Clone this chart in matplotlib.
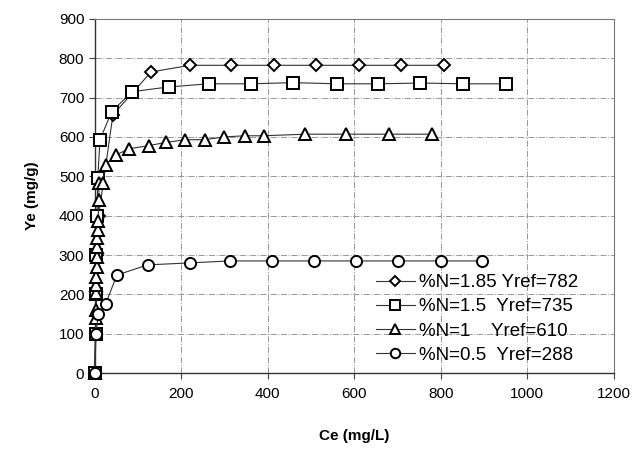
import matplotlib
matplotlib.use("Agg")
import matplotlib.pyplot as plt

plt.rcParams['font.family'] = ['Liberation Sans', 'DejaVu Sans']

# %N = 1.85
ce_185 = [0, 2, 4, 6, 9, 42, 130, 220, 316, 414, 511, 610, 708, 807]
ye_185 = [0, 100, 200, 300, 400, 656, 765, 782, 782, 782, 782, 782, 782, 782]
# %N = 1.5
ce_15 = [0, 2, 3, 4, 5, 7, 12, 39, 86, 171, 263, 361, 458, 559, 655, 753, 851, 950]
ye_15 = [0, 100, 200, 300, 400, 495, 593, 664, 715, 727, 735, 735, 738, 735, 735, 737, 735, 735]
# %N = 1
ce_1 = [0, 2, 3, 3, 4, 4, 5, 5, 6, 6, 7, 8, 9, 10, 18,
        25, 49, 79, 125, 164, 208, 254, 298, 347, 391, 486, 582, 680, 779]
ye_1 = [0, 140, 160, 203, 224, 244, 270, 295, 320, 343, 364, 386, 440, 483, 483,
        529, 554, 570, 578, 586, 593, 593, 600, 603, 603, 607, 607, 607, 607]
# %N = 0.5
ce_05 = [0, 3, 8, 25, 51, 122, 220, 312, 409, 506, 605, 700, 800, 895]
ye_05 = [0, 100, 150, 175, 249, 275, 280, 285, 285, 285, 285, 285, 285, 285]

labels = ["%N=1.85 Yref=782", "%N=1.5  Yref=735", "%N=1    Yref=610", "%N=0.5  Yref=288"]
x_ticks = [0, 200, 400, 600, 800, 1000, 1200]
y_ticks = [0, 100, 200, 300, 400, 500, 600, 700, 800, 900]

fig = plt.figure(figsize=(6.36, 4.49), dpi=100)
ax = fig.add_axes([0.149, 0.169, 0.816, 0.789])

line_kw = dict(color='#333333', linewidth=0.8, markerfacecolor='white',
               markeredgecolor='black', markeredgewidth=1.4, clip_on=False)
ax.plot(ce_185, ye_185, marker='D', markersize=6.5, label=labels[0], zorder=3, **line_kw)
ax.plot(ce_15, ye_15, marker='s', markersize=8, label=labels[1], zorder=4, **line_kw)
ax.plot(ce_1, ye_1, marker='^', markersize=8, label=labels[2], zorder=5, **line_kw)
ax.plot(ce_05, ye_05, marker='o', markersize=8, label=labels[3], zorder=6, **line_kw)

ax.set_xlim(0, 1200)
ax.set_ylim(0, 900)
ax.set_xticks(x_ticks)
ax.set_yticks(y_ticks)
ax.tick_params(labelsize=11, length=4, width=0.8, color='#444444')
ax.tick_params(axis='x', pad=6)
ax.grid(True, color='#999999', linestyle='-.', linewidth=0.7)
ax.set_axisbelow(True)
for s in ['top', 'right']:
    ax.spines[s].set_color('#777777')
    ax.spines[s].set_linewidth(0.8)
for s in ['left', 'bottom']:
    ax.spines[s].set_color('#333333')
    ax.spines[s].set_linewidth(1.0)

ax.set_xlabel("Ce (mg/L)", fontsize=11, fontweight='bold', labelpad=20)
ax.set_ylabel("Ye (mg/g)", fontsize=11, fontweight='bold', labelpad=14)

leg = ax.legend(loc='lower left', bbox_to_anchor=(0.527, 0.005), frameon=False,
                fontsize=13.5, handlelength=2.1, labelspacing=0.38, handletextpad=0.2,
                borderaxespad=0.0, markerscale=0.85)

fig.savefig("out.png", dpi=100)
